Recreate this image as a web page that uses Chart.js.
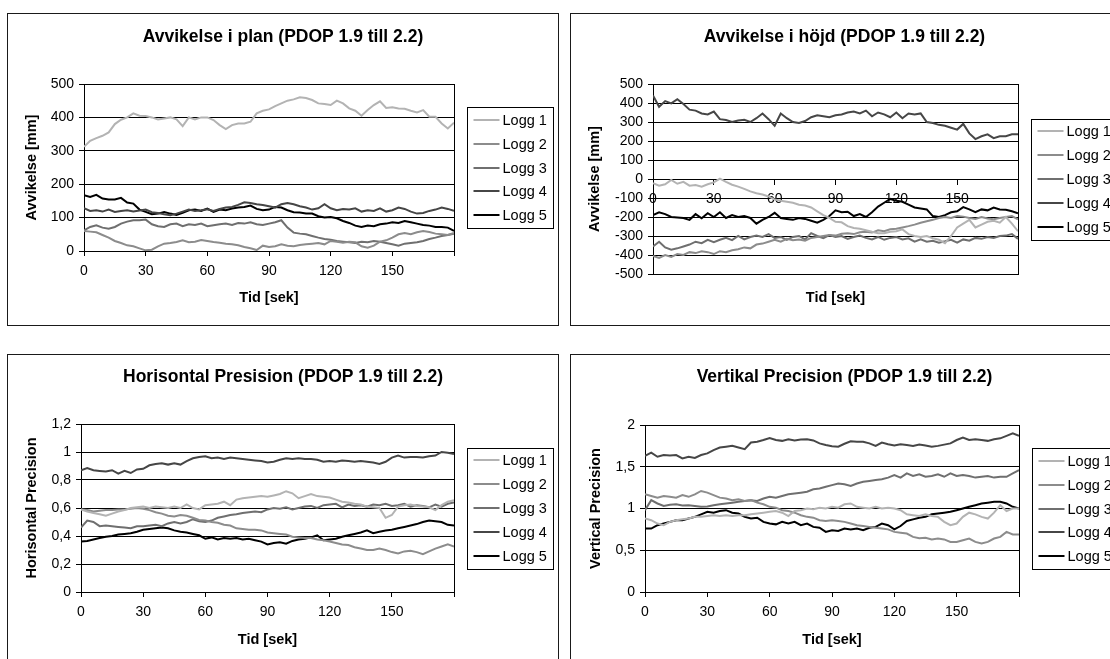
<!DOCTYPE html>
<html>
<head>
<meta charset="utf-8">
<script src="https://cdn.jsdelivr.net/npm/chart.js@4.4.1/dist/chart.umd.min.js"></script>
<style>
  html, body { margin:0; padding:0; background:#fff; width:1110px; height:659px; overflow:hidden; }
  canvas { position:absolute; }
</style>
</head>
<body>
<canvas id="cA" width="552" height="313" style="left:7px;top:13px;"></canvas>
<canvas id="cB" width="549" height="313" style="left:570px;top:13px;"></canvas>
<canvas id="cC" width="552" height="320" style="left:7px;top:354px;"></canvas>
<canvas id="cD" width="549" height="320" style="left:570px;top:354px;"></canvas>
<script>
// ---------- data ----------
const times = [0,3,6,9,12,15,18,21,24,27,30,33,36,39,42,45,48,51,54,57,60,63,66,69,72,75,78,81,84,87,90,93,96,99,102,105,108,111,114,117,120,123,126,129,132,135,138,141,144,147,150,153,156,159,162,165,168,171,174,177,180];
const seriesNames = ['Logg 1','Logg 2','Logg 3','Logg 4','Logg 5'];
const xTickValues = [0,30,60,90,120,150,180];

const planTitle = 'Avvikelse i plan (PDOP 1.9 till 2.2)';
const planYTitle = 'Avvikelse [mm]';
const planYTicks = [0,100,200,300,400,500];
const planLogg1 = [312,330,338,345,355,380,393,400,412,405,404,400,394,397,400,394,374,400,394,400,400,392,377,365,377,382,382,387,412,420,424,434,442,450,454,460,458,452,442,440,437,450,442,427,420,405,422,437,448,428,430,427,426,420,415,422,402,402,382,367,384];
const planLogg2 = [60,58,56,48,40,30,24,17,14,8,2,4,14,22,24,27,32,26,28,33,30,27,25,22,20,17,12,8,3,16,12,14,20,16,14,18,20,22,24,20,30,28,25,28,26,14,10,16,28,32,40,50,54,50,56,60,57,52,50,48,54];
const planLogg3 = [62,72,77,70,67,72,82,88,92,92,94,80,74,72,80,82,74,80,78,82,74,77,80,82,78,84,82,86,80,78,82,86,92,70,55,52,50,45,40,36,34,30,28,26,24,28,26,30,28,24,20,16,22,24,26,30,36,40,45,48,52];
const planLogg4 = [128,120,122,118,124,117,120,122,118,121,124,116,114,110,107,112,118,124,120,122,125,120,126,130,132,138,146,144,140,138,134,130,140,144,140,134,130,124,128,140,128,122,126,124,128,118,122,120,128,118,122,130,126,118,112,114,120,124,130,126,120];
const planLogg5 = [167,162,168,157,154,154,159,145,142,124,117,110,112,117,112,108,114,122,124,120,127,117,124,122,127,130,132,136,126,122,124,132,130,122,116,115,112,112,104,100,102,98,90,84,76,72,76,74,80,82,86,84,90,86,82,78,76,72,72,70,60];

const hojdTitle = 'Avvikelse i höjd (PDOP 1.9 till 2.2)';
const hojdYTitle = 'Avvikelse [mm]';
const hojdYTicks = [-500,-400,-300,-200,-100,0,100,200,300,400,500];
const hojdLogg1 = [-22,-35,-28,-5,-25,-15,-35,-32,-40,-28,-18,2,-15,-30,-40,-52,-65,-75,-82,-92,-108,-115,-120,-125,-135,-140,-150,-170,-190,-205,-225,-228,-248,-258,-262,-270,-278,-285,-285,-278,-275,-265,-290,-300,-305,-300,-312,-320,-338,-300,-255,-235,-215,-255,-240,-225,-220,-230,-200,-235,-275];
const hojdLogg2 = [-405,-415,-400,-410,-395,-400,-385,-390,-380,-385,-395,-380,-385,-375,-370,-360,-365,-345,-340,-330,-320,-330,-315,-322,-318,-325,-310,-305,-300,-295,-298,-288,-285,-290,-280,-278,-282,-270,-275,-265,-262,-255,-248,-240,-230,-222,-215,-205,-200,-205,-195,-198,-205,-210,-200,-208,-212,-205,-200,-195,-212];
const hojdLogg3 = [-355,-330,-360,-372,-365,-355,-345,-330,-338,-320,-332,-320,-310,-322,-300,-318,-305,-298,-305,-290,-310,-305,-320,-305,-300,-318,-285,-300,-312,-295,-305,-300,-315,-305,-298,-310,-318,-305,-320,-310,-305,-318,-312,-330,-318,-330,-325,-335,-328,-320,-335,-318,-325,-310,-315,-305,-310,-300,-298,-290,-315];
const hojdLogg4 = [440,380,410,398,420,395,365,360,345,340,355,315,310,300,308,312,300,320,345,315,280,345,320,300,295,305,325,335,330,325,335,340,350,355,345,360,330,350,340,325,350,320,345,340,345,300,295,285,280,270,260,290,240,210,225,235,215,225,225,235,235];
const hojdLogg5 = [-190,-175,-185,-200,-202,-205,-215,-185,-207,-180,-200,-175,-205,-190,-200,-195,-205,-235,-215,-200,-178,-205,-210,-215,-205,-210,-220,-230,-215,-195,-165,-175,-172,-195,-185,-200,-175,-145,-125,-105,-115,-120,-135,-150,-155,-160,-195,-200,-190,-175,-170,-148,-160,-175,-160,-165,-150,-160,-162,-170,-180];

const horizTitle = 'Horisontal Presision (PDOP 1.9 till 2.2)';
const horizYTitle = 'Horisontal Precision';
const horizYTicks = [0,0.2,0.4,0.6,0.8,1,1.2];
const horizLogg1 = [0.59,0.575,0.565,0.555,0.545,0.56,0.575,0.585,0.6,0.605,0.61,0.6,0.61,0.605,0.6,0.61,0.6,0.625,0.6,0.59,0.62,0.625,0.63,0.645,0.62,0.66,0.67,0.675,0.68,0.685,0.68,0.69,0.7,0.72,0.705,0.67,0.685,0.7,0.685,0.68,0.675,0.66,0.645,0.64,0.63,0.625,0.61,0.605,0.6,0.53,0.55,0.61,0.62,0.625,0.615,0.61,0.605,0.585,0.62,0.645,0.655];
const horizLogg2 = [0.59,0.585,0.575,0.58,0.585,0.585,0.59,0.59,0.595,0.6,0.595,0.585,0.57,0.56,0.545,0.54,0.55,0.545,0.53,0.515,0.51,0.5,0.495,0.48,0.475,0.455,0.45,0.445,0.445,0.44,0.425,0.42,0.415,0.41,0.395,0.39,0.385,0.385,0.375,0.37,0.36,0.35,0.34,0.335,0.32,0.31,0.3,0.3,0.31,0.3,0.285,0.275,0.29,0.295,0.285,0.27,0.29,0.31,0.325,0.34,0.325];
const horizLogg3 = [0.46,0.51,0.5,0.47,0.475,0.47,0.465,0.46,0.455,0.47,0.47,0.475,0.48,0.47,0.49,0.5,0.49,0.5,0.52,0.505,0.5,0.51,0.53,0.54,0.55,0.555,0.565,0.57,0.575,0.57,0.59,0.6,0.595,0.605,0.59,0.6,0.61,0.615,0.6,0.62,0.625,0.63,0.605,0.625,0.615,0.62,0.61,0.625,0.62,0.63,0.615,0.62,0.63,0.61,0.62,0.615,0.605,0.625,0.61,0.63,0.64];
const horizLogg4 = [0.87,0.885,0.87,0.865,0.86,0.87,0.845,0.865,0.85,0.875,0.88,0.905,0.915,0.92,0.91,0.92,0.91,0.935,0.955,0.965,0.97,0.955,0.96,0.95,0.96,0.955,0.95,0.945,0.94,0.935,0.925,0.93,0.945,0.955,0.95,0.955,0.95,0.95,0.945,0.93,0.935,0.93,0.94,0.935,0.93,0.935,0.93,0.925,0.915,0.93,0.96,0.975,0.96,0.965,0.965,0.96,0.97,0.975,1.0,0.995,0.985];
const horizLogg5 = [0.36,0.365,0.375,0.385,0.395,0.4,0.41,0.415,0.42,0.43,0.445,0.45,0.455,0.46,0.455,0.44,0.43,0.425,0.415,0.405,0.38,0.39,0.375,0.385,0.38,0.385,0.375,0.38,0.37,0.36,0.34,0.35,0.355,0.345,0.365,0.375,0.38,0.39,0.405,0.37,0.375,0.38,0.395,0.405,0.415,0.425,0.44,0.42,0.43,0.44,0.445,0.455,0.465,0.475,0.485,0.5,0.51,0.505,0.5,0.48,0.475];

const vertTitle = 'Vertikal Precision (PDOP 1.9 till 2.2)';
const vertYTitle = 'Vertical Precision';
const vertYTicks = [0,0.5,1,1.5,2];
const vertLogg1 = [0.88,0.86,0.82,0.8,0.84,0.86,0.87,0.88,0.9,0.9,0.91,0.92,0.91,0.92,0.91,0.92,0.92,0.93,0.94,0.95,0.96,0.97,0.95,0.91,0.97,0.98,1.0,0.99,1.01,1.0,1.02,1.01,1.05,1.06,1.02,1.01,1.0,1.02,1.0,1.01,1.0,0.98,0.93,0.92,0.91,0.93,0.91,0.9,0.84,0.8,0.82,0.9,0.95,0.93,0.9,0.88,0.95,1.04,0.97,1.0,1.0];
const vertLogg2 = [1.17,1.15,1.13,1.15,1.14,1.13,1.16,1.14,1.17,1.21,1.19,1.16,1.13,1.12,1.1,1.11,1.09,1.1,1.07,1.05,1.02,1.01,0.98,0.97,0.95,0.92,0.9,0.89,0.86,0.85,0.86,0.85,0.84,0.82,0.8,0.79,0.78,0.77,0.76,0.75,0.72,0.71,0.7,0.66,0.645,0.65,0.63,0.64,0.63,0.6,0.6,0.62,0.64,0.6,0.58,0.6,0.64,0.66,0.72,0.69,0.69];
const vertLogg3 = [0.98,1.1,1.06,1.03,1.045,1.05,1.035,1.04,1.03,1.02,1.025,1.04,1.05,1.06,1.07,1.08,1.09,1.1,1.09,1.12,1.14,1.13,1.15,1.17,1.18,1.19,1.2,1.23,1.24,1.26,1.28,1.3,1.29,1.27,1.3,1.32,1.33,1.34,1.35,1.37,1.4,1.37,1.42,1.39,1.41,1.38,1.39,1.41,1.38,1.42,1.39,1.4,1.39,1.37,1.38,1.39,1.37,1.38,1.38,1.42,1.46];
const vertLogg4 = [1.63,1.67,1.62,1.64,1.635,1.64,1.6,1.62,1.605,1.64,1.66,1.7,1.73,1.74,1.75,1.73,1.71,1.79,1.8,1.82,1.845,1.82,1.81,1.83,1.815,1.825,1.83,1.815,1.78,1.76,1.745,1.74,1.775,1.805,1.8,1.8,1.78,1.75,1.79,1.77,1.755,1.77,1.76,1.75,1.765,1.755,1.74,1.75,1.765,1.78,1.82,1.85,1.82,1.83,1.82,1.81,1.83,1.84,1.87,1.9,1.87];
const vertLogg5 = [0.76,0.76,0.8,0.82,0.84,0.86,0.86,0.88,0.9,0.93,0.96,0.95,0.97,0.98,0.95,0.94,0.9,0.88,0.89,0.84,0.82,0.81,0.84,0.82,0.84,0.8,0.82,0.78,0.77,0.72,0.74,0.73,0.76,0.75,0.76,0.74,0.77,0.78,0.82,0.8,0.75,0.79,0.85,0.87,0.89,0.9,0.93,0.94,0.95,0.96,0.98,1.0,1.02,1.04,1.06,1.07,1.08,1.08,1.06,1.02,1.0];

const xTitle = 'Tid [sek]';

// ---------- style ----------
const FONT = '"Liberation Sans", Arial, Helvetica, sans-serif';
const seriesColors = ['#b3b3b3','#8c8c8c','#6f6f6f','#464646','#000000'];
Chart.defaults.font.family = FONT;
Chart.defaults.color = '#000';

const framePlugin = {
  id: 'frame',
  beforeDatasetsDraw(chart) {
    const {ctx, chartArea: a} = chart;
    ctx.save();
    ctx.strokeStyle = '#000';
    ctx.lineWidth = 1;
    ctx.strokeRect(Math.round(a.left) + 0.5, Math.round(a.top) + 0.5,
                   Math.round(a.right - a.left), Math.round(a.bottom - a.top));
    ctx.restore();
  },
  afterDraw(chart) {
    const {ctx} = chart;
    ctx.save();
    ctx.strokeStyle = '#1a1a1a';
    ctx.lineWidth = 1;
    ctx.strokeRect(0.5, 0.5, chart.width - 1, chart.height - 1);
    ctx.restore();
  }
};

const boxLegend = {
  id: 'boxLegend',
  afterDraw(chart, args, o) {
    const {ctx, chartArea: a} = chart;
    const mid = (a.top + a.bottom) / 2;
    const left = Math.round(a.right + o.gap) + 0.5;
    const top = Math.round(mid - o.height / 2) + 0.5;
    ctx.save();
    ctx.fillStyle = '#fff';
    ctx.fillRect(left, top, o.width, o.height);
    ctx.strokeStyle = '#000';
    ctx.lineWidth = 1;
    ctx.strokeRect(left, top, o.width, o.height);
    ctx.font = o.fontSize + 'px ' + FONT;
    ctx.textBaseline = 'middle';
    ctx.textAlign = 'left';
    const ds = chart.data.datasets;
    const n = ds.length;
    ds.forEach((d, i) => {
      const y = Math.round(mid + (i - (n - 1) / 2) * o.rowGap);
      ctx.strokeStyle = d.borderColor;
      ctx.lineWidth = d.borderWidth;
      ctx.beginPath();
      ctx.moveTo(left + o.lineX0, y);
      ctx.lineTo(left + o.lineX1, y);
      ctx.stroke();
      ctx.fillStyle = '#000';
      ctx.fillText(d.label, left + o.textX, y + 0.5);
    });
    ctx.restore();
  }
};

function build(id, cfg) {
  const L = cfg.layout;
  const datasets = cfg.series.map((vals, i) => ({
    label: seriesNames[i],
    data: times.map((t, k) => ({x: t, y: vals[k]})),
    borderColor: seriesColors[i],
    backgroundColor: seriesColors[i],
    borderWidth: 2,
    pointRadius: 0,
    pointHoverRadius: 0,
    tension: 0,
    fill: false
  }));
  const axisTitleFont = {family: FONT, size: 14.5, weight: 'bold'};
  const tickFont = {family: FONT, size: 14};
  const scales = {
    x: {
      type: 'linear', min: 0, max: 180,
      position: cfg.xAtZero ? {y: 0} : 'bottom',
      afterBuildTicks: s => { s.ticks = xTickValues.map(v => ({value: v})); },
      ticks: {autoSkip: false, maxRotation: 0, minRotation: 0, padding: 7, color: '#000', font: tickFont,
              callback: v => (v === 180 ? '' : String(v))},
      grid: {drawOnChartArea: false, drawTicks: true, tickLength: 5, color: '#000', lineWidth: 1},
      border: {display: true, color: '#000', width: 1},
      title: cfg.xAtZero ? {display: false} :
        {display: true, text: xTitle, color: '#000', font: axisTitleFont, padding: {top: 0, bottom: L.xTitlePad}},
      afterFit: s => { if (!cfg.xAtZero) s.height = L.xAxisH; }
    },
    y: {
      type: 'linear', min: cfg.yTicks[0], max: cfg.yTicks[cfg.yTicks.length - 1],
      afterBuildTicks: s => { s.ticks = cfg.yTicks.map(v => ({value: v})); },
      ticks: {autoSkip: false, padding: 5, color: '#000', font: tickFont,
              callback: v => String(v).replace('.', ',')},
      grid: {color: '#000', lineWidth: 1, drawTicks: true, tickLength: 5},
      border: {display: true, color: '#000', width: 1},
      title: {display: true, text: cfg.yTitle, color: '#000', font: axisTitleFont, padding: {top: L.yTitlePad, bottom: 0}},
      afterFit: s => { s.width = L.yAxisW; }
    },
    // empty right-hand box that reserves room for the legend
    legendRoom: {
      type: 'linear', position: 'right', min: 0, max: 1,
      ticks: {display: false}, grid: {display: false}, border: {display: false},
      afterFit: s => { s.width = L.padRight; }
    }
  };
  if (cfg.xAtZero) {
    scales.xb = {
      type: 'linear', position: 'bottom', min: 0, max: 180,
      ticks: {display: false}, grid: {display: false}, border: {display: false},
      title: {display: true, text: xTitle, color: '#000', font: axisTitleFont, padding: {top: 0, bottom: L.xTitlePad}},
      afterFit: s => { s.height = L.xAxisH; }
    };
  }
  return new Chart(document.getElementById(id), {
    type: 'line',
    data: {datasets},
    options: {
      responsive: false,
      animation: false,
      devicePixelRatio: 1,
      events: [],
      layout: {padding: 0},
      scales,
      plugins: {
        legend: {display: false},
        tooltip: {enabled: false},
        title: {display: true, text: cfg.title, color: '#000',
                font: {family: FONT, size: 17.5, weight: 'bold'},
                padding: {top: L.titleTop, bottom: L.titleBottom}},
        boxLegend: {gap: 13, width: 86, height: 121, rowGap: 23.8, lineX0: 6, lineX1: 32, textX: 35, fontSize: 14.5}
      }
    },
    plugins: [framePlugin, boxLegend]
  });
}

build('cA', {
  title: planTitle, yTitle: planYTitle, yTicks: planYTicks,
  series: [planLogg1, planLogg2, planLogg3, planLogg4, planLogg5],
  layout: {yAxisW: 77, padRight: 105, titleTop: 13.5, titleBottom: 36.5, xAxisH: 75, xTitlePad: 19.3, yTitlePad: 16.3}
});
build('cB', {
  title: hojdTitle, yTitle: hojdYTitle, yTicks: hojdYTicks, xAtZero: true,
  series: [hojdLogg1, hojdLogg2, hojdLogg3, hojdLogg4, hojdLogg5],
  layout: {yAxisW: 83, padRight: 101, titleTop: 13.5, titleBottom: 36.5, xAxisH: 52, xTitlePad: 19.3, yTitlePad: 16.3}
});
build('cC', {
  title: horizTitle, yTitle: horizYTitle, yTicks: horizYTicks,
  series: [horizLogg1, horizLogg2, horizLogg3, horizLogg4, horizLogg5],
  layout: {yAxisW: 74, padRight: 105, titleTop: 12.5, titleBottom: 36.5, xAxisH: 82, xTitlePad: 25.3, yTitlePad: 16.3}
});
build('cD', {
  title: vertTitle, yTitle: vertYTitle, yTicks: vertYTicks,
  series: [vertLogg1, vertLogg2, vertLogg3, vertLogg4, vertLogg5],
  layout: {yAxisW: 75, padRight: 100, titleTop: 12.5, titleBottom: 37.5, xAxisH: 82, xTitlePad: 25.3, yTitlePad: 17.3}
});
</script>
</body>
</html>
